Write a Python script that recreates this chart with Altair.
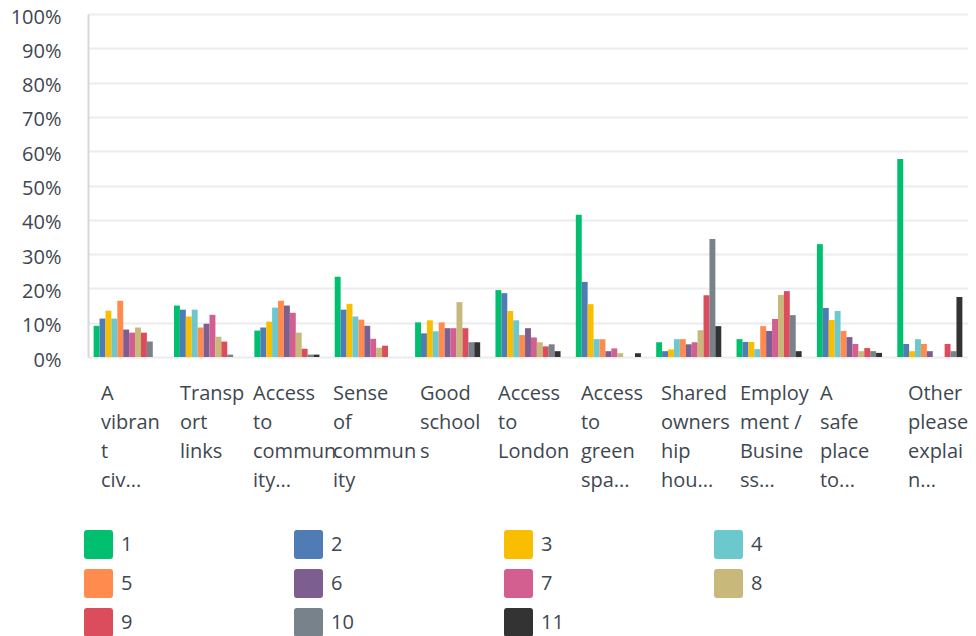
import altair as alt
import pandas as pd

categories = [
    "A vibrant civ...", "Transport links", "Access to community...",
    "Sense of community", "Good schools", "Access to London",
    "Access to green spa...", "Shared ownership hou...",
    "Employment / Business...", "A safe place to...", "Other please explain...",
]
wrapped_labels = [
    ["A", "vibran", "t", "civ..."],
    ["Transp", "ort", "links"],
    ["Access", "to", "commun", "ity..."],
    ["Sense", "of", "commun", "ity"],
    ["Good", "school", "s"],
    ["Access", "to", "London"],
    ["Access", "to", "green", "spa..."],
    ["Shared", "owners", "hip", "hou..."],
    ["Employ", "ment /", "Busine", "ss..."],
    ["A", "safe", "place", "to..."],
    ["Other", "please", "explai", "n..."],
]
# horizontal shift of each wrapped label block (layout, px)
label_shift = [-25.2, -26.6, -33.9, -34.3, -27.7, -30.0, -27.4, -27.8, -29.2, -29.5, -21.9]

series = ["1", "2", "3", "4", "5", "6", "7", "8", "9", "10", "11"]
colors = ["#00BF6F", "#507CB6", "#F9BE00", "#6BC8CD", "#FF8B4F", "#7D5E90",
          "#D25F90", "#C8B879", "#DB4D5C", "#78828A", "#333333"]

# percent values per series, one per category
s1 = [9.1, 15.0, 7.7, 23.4, 10.1, 19.5, 41.5, 4.3, 5.2, 32.9, 57.7]
s2 = [11.2, 13.8, 8.6, 13.8, 6.9, 18.6, 21.9, 1.7, 4.4, 14.3, 3.8]
s3 = [13.5, 11.8, 10.3, 15.5, 10.7, 13.4, 15.4, 2.2, 4.4, 10.8, 1.7]
s4 = [11.2, 13.8, 14.4, 11.8, 7.5, 10.7, 5.2, 5.2, 2.3, 13.4, 5.2]
s5 = [16.4, 8.6, 16.4, 10.9, 10.1, 6.4, 5.2, 5.2, 9.0, 7.6, 3.8]
s6 = [8.0, 9.7, 15.0, 9.1, 8.4, 8.4, 1.7, 3.7, 7.6, 5.8, 1.7]
s7 = [7.1, 12.3, 12.9, 5.3, 8.4, 5.7, 2.5, 4.3, 11.1, 3.8, 0.0]
s8 = [8.6, 5.9, 7.1, 2.7, 16.0, 4.3, 1.1, 7.8, 18.1, 1.7, 0.0]
s9 = [7.1, 4.5, 2.4, 3.3, 8.4, 3.1, 0.0, 18.0, 19.2, 2.6, 3.8]
s10 = [4.5, 0.7, 0.7, 0.0, 4.3, 3.7, 0.0, 34.4, 12.2, 1.7, 1.7]
s11 = [0.0, 0.0, 0.7, 0.0, 4.3, 1.7, 1.1, 9.0, 1.7, 1.2, 17.5]
all_series = [s1, s2, s3, s4, s5, s6, s7, s8, s9, s10, s11]

rows = []
for name, vals in zip(series, all_series):
    for cat, v in zip(categories, vals):
        rows.append({"category": cat, "series": name, "value": v / 100.0})
df = pd.DataFrame(rows)

lab_df = pd.DataFrame({
    "category": categories,
    "label": ["\n".join(parts) for parts in wrapped_labels],
})

FONT = "Open Sans"
TXT = "#3e4750"
rounded = ("M-0.8,-1L0.8,-1Q1,-1,1,-0.8L1,0.8Q1,1,0.8,1L-0.8,1"
           "Q-1,1,-1,0.8L-1,-0.8Q-1,-1,-0.8,-1Z")

bars = alt.Chart(df).mark_bar().encode(
    x=alt.X("category:N", sort=categories, title=None,
            scale=alt.Scale(paddingInner=0.19, paddingOuter=0.07, round=False),
            axis=alt.Axis(labels=False, ticks=False, domainColor="#d0d0d0",
                          domainWidth=2, grid=False)),
    xOffset=alt.XOffset("series:N", sort=series,
                        scale=alt.Scale(paddingInner=0, paddingOuter=0,
                                        round=False)),
    y=alt.Y("value:Q", title=None,
            scale=alt.Scale(domain=[0, 1], nice=False),
            axis=alt.Axis(format=".0%", values=[i / 10 for i in range(11)],
                          labelFontSize=20, labelFont=FONT, labelColor=TXT,
                          labelPadding=27, labelOffset=3, ticks=False,
                          domainColor="#d8d8d8", domainWidth=2,
                          gridColor="#ececec", gridWidth=2)),
    color=alt.Color("series:N", sort=series,
                    scale=alt.Scale(domain=series, range=colors),
                    legend=alt.Legend(title=None, orient="none", legendX=-4,
                                      legendY=516, direction="horizontal",
                                      columns=4, gridAlign="all",
                                      symbolType=rounded, symbolSize=841,
                                      symbolStrokeWidth=0, symbolOpacity=1,
                                      labelFontSize=20, labelFont=FONT,
                                      labelColor=TXT, labelOffset=8,
                                      rowPadding=10, columnPadding=150)),
)

label_layers = []
for cat, shift in zip(categories, label_shift):
    label_layers.append(
        alt.Chart(lab_df).transform_filter(alt.datum.category == cat)
        .mark_text(dx=shift, align="left", baseline="top", lineBreak="\n",
                   lineHeight=29, fontSize=20, font=FONT, color=TXT)
        .encode(x=alt.X("category:N", sort=categories, axis=None),
                y=alt.value(370), text="label:N")
    )

chart = alt.layer(bars, *label_layers).properties(
    width=880, height=343,
    autosize=alt.AutoSizeParams(type="none"),
    padding={"left": 80, "top": 6, "right": 0, "bottom": 290},
).configure_view(stroke=None)

chart.save("out.html", embed_options={"renderer": "svg", "actions": False})
